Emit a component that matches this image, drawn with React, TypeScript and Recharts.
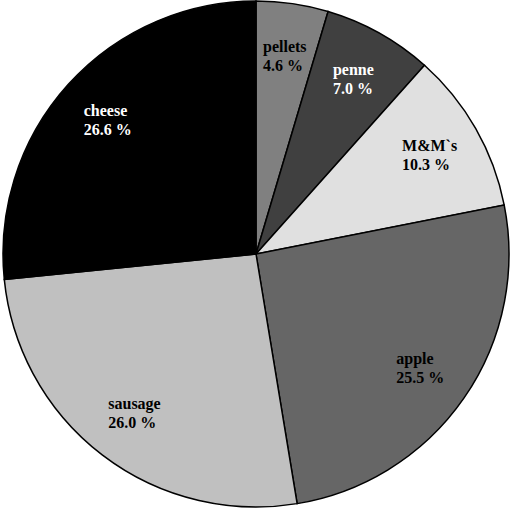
import { PieChart, Pie, Cell } from 'recharts';

const foods = ['pellets', 'penne', 'M&M`s', 'apple', 'sausage', 'cheese'];
const shares = [4.6, 7.0, 10.3, 25.5, 26.0, 26.6];
const fills = ['#808080', '#404040', '#e0e0e0', '#666666', '#c0c0c0', '#000000'];

const data = foods.map((name, i) => ({ name, value: shares[i] }));

const RAD = Math.PI / 180;

let ctx: CanvasRenderingContext2D | null = null;
const measure = (text: string) => {
  if (!ctx) ctx = document.createElement('canvas').getContext('2d');
  if (!ctx) return text.length * 8;
  ctx.font = 'bold 16px "Liberation Serif", "Times New Roman", serif';
  return ctx.measureText(text).width;
};

const renderLabel = (props: any) => {
  const { cx, cy, midAngle, outerRadius, index, name, value } = props;
  const r = outerRadius * 0.79;
  const px = cx + r * Math.cos(-midAngle * RAD);
  const py = cy + r * Math.sin(-midAngle * RAD);
  const pct = `${Number(value).toFixed(1)} %`;
  const w = Math.max(measure(name), measure(pct));
  const x = px - w / 2;
  const dark = index === 1 || index === 5;
  return (
    <text
      x={x}
      y={py - 4}
      fill={dark ? '#ffffff' : '#000000'}
      fontFamily='"Liberation Serif", "Times New Roman", serif'
      fontWeight="bold"
      fontSize={16}
      textAnchor="start"
    >
      <tspan x={x} dy={0}>{name}</tspan>
      <tspan x={x} dy={19}>{pct}</tspan>
    </text>
  );
};

export default function App() {
  return (
    <div style={{ position: 'absolute', left: 0, top: 0, width: 510, height: 511, background: '#fff' }}>
      <PieChart width={510} height={511} margin={{ top: 0, right: 0, bottom: 0, left: 0 }}>
        <Pie
          data={data}
          dataKey="value"
          nameKey="name"
          cx={256}
          cy={254}
          outerRadius={253}
          startAngle={90}
          endAngle={-270}
          stroke="#000"
          strokeWidth={1.5}
          label={renderLabel}
          labelLine={false}
          isAnimationActive={false}
        >
          {data.map((d, i) => (
            <Cell key={d.name} fill={fills[i]} />
          ))}
        </Pie>
      </PieChart>
    </div>
  );
}
